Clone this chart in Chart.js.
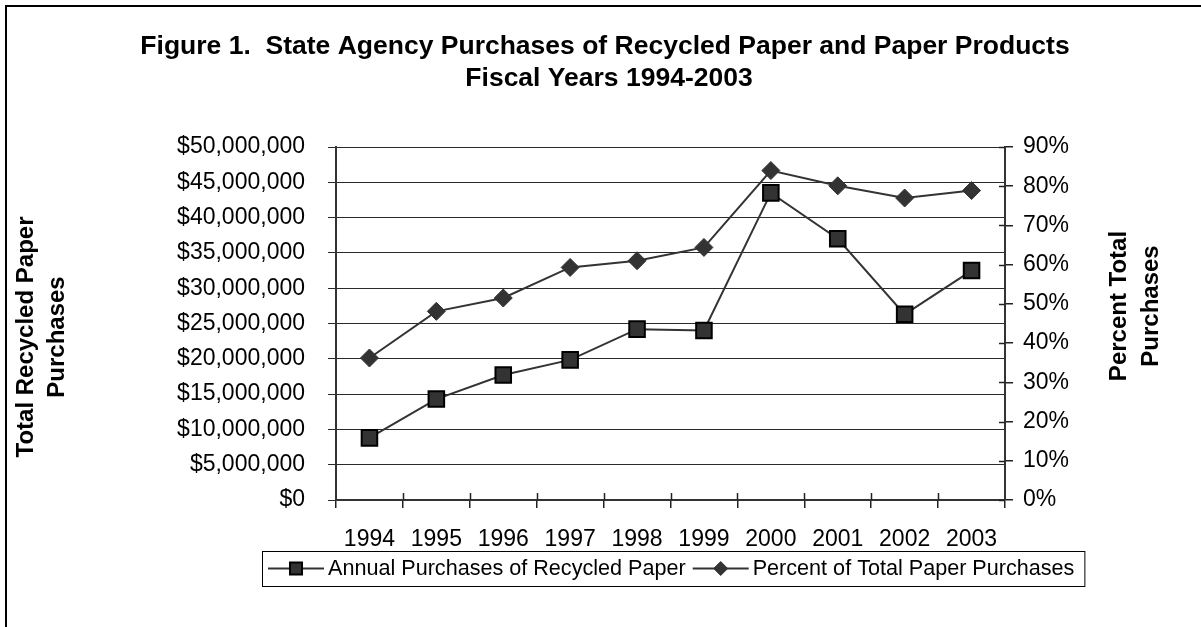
<!DOCTYPE html>
<html>
<head>
<meta charset="utf-8">
<script src="https://cdn.jsdelivr.net/npm/chart.js@4/dist/chart.umd.min.js"></script>
<style>
  html, body { margin: 0; padding: 0; background: #ffffff; }
  #wrap { width: 1201px; height: 627px; position: relative; }
</style>
</head>
<body>
<div id="wrap"><canvas id="c" width="1201" height="627"></canvas></div>
<script>
// Fiscal years and the two series plotted against them
const categories = ['1994', '1995', '1996', '1997', '1998', '1999', '2000', '2001', '2002', '2003'];
const annualPurchases = [8800000, 14300000, 17700000, 19850000, 24200000, 24000000, 43500000, 37000000, 26300000, 32500000];
const percentOfTotal = [36.2, 48.1, 51.5, 59.3, 61.0, 64.4, 84.0, 80.1, 77.0, 78.9];

// Text
const titleLines = ['Figure 1.  State Agency Purchases of Recycled Paper and Paper Products', 'Fiscal Years 1994-2003'];
const leftAxisTitle = ['Total Recycled Paper', 'Purchases'];
const rightAxisTitle = ['Percent Total', 'Purchases'];
const seriesNames = ['Annual Purchases of Recycled Paper', 'Percent of Total Paper Purchases'];

// Axis ranges
const dollarAxis = { min: 0, max: 50000000, step: 5000000 };
const percentAxis = { min: 0, max: 90, step: 10 };

const FONT = "'Liberation Sans', Arial, Helvetica, sans-serif";
const INK = '#333333';
Chart.defaults.font.family = FONT;
Chart.defaults.color = '#000000';

function drawSquare(ctx, x, y, half) {
  ctx.save();
  ctx.fillStyle = INK;
  ctx.strokeStyle = '#000000';
  ctx.lineWidth = 2;
  ctx.beginPath();
  ctx.rect(x - half, y - half, half * 2, half * 2);
  ctx.fill();
  ctx.stroke();
  ctx.restore();
}
function drawDiamond(ctx, x, y, r) {
  ctx.save();
  ctx.fillStyle = INK;
  ctx.strokeStyle = INK;
  ctx.lineWidth = 1;
  ctx.beginPath();
  ctx.moveTo(x - r, y);
  ctx.lineTo(x, y - r);
  ctx.lineTo(x + r, y);
  ctx.lineTo(x, y + r);
  ctx.closePath();
  ctx.fill();
  ctx.stroke();
  ctx.restore();
}

const decorations = {
  id: 'decorations',
  beforeDatasetsDraw(chart) {
    const ctx = chart.ctx;
    const area = chart.chartArea;
    const y2 = chart.scales.y2;
    ctx.save();
    ctx.strokeStyle = '#222222';
    ctx.lineWidth = 1.5;
    // inner half of the category tick marks
    const step = (area.right - area.left) / categories.length;
    for (let i = 1; i < categories.length; i++) {
      const px = Math.round(area.left + i * step) + 0.5;
      ctx.beginPath();
      ctx.moveTo(px, area.bottom - 7);
      ctx.lineTo(px, area.bottom);
      ctx.stroke();
    }
    // inner half of the percent axis tick marks
    y2.ticks.forEach((t, i) => {
      const py = Math.round(y2.getPixelForTick(i)) + 0.5;
      ctx.beginPath();
      ctx.moveTo(area.right - 6, py);
      ctx.lineTo(area.right, py);
      ctx.stroke();
    });
    ctx.restore();
  },
  afterDraw(chart) {
    const ctx = chart.ctx;
    ctx.save();
    // outer frame (left and top edges)
    ctx.strokeStyle = '#000000';
    ctx.lineWidth = 2;
    ctx.beginPath();
    ctx.moveTo(6, 627);
    ctx.lineTo(6, 6);
    ctx.lineTo(1201, 6);
    ctx.stroke();

    // chart title
    ctx.fillStyle = '#000000';
    ctx.textAlign = 'center';
    ctx.textBaseline = 'alphabetic';
    ctx.font = 'bold 26.5px ' + FONT;
    ctx.fillText(titleLines[0], 605, 54);
    ctx.fillText(titleLines[1], 609, 86);

    // axis titles
    ctx.font = 'bold 24px ' + FONT;
    ctx.textBaseline = 'middle';
    ctx.save();
    ctx.translate(0, 337);
    ctx.rotate(-Math.PI / 2);
    ctx.fillText(leftAxisTitle[0], 0, 26);
    ctx.fillText(leftAxisTitle[1], 0, 57);
    ctx.restore();
    ctx.save();
    ctx.translate(0, 306);
    ctx.rotate(-Math.PI / 2);
    ctx.fillText(rightAxisTitle[0], 0, 1119);
    ctx.fillText(rightAxisTitle[1], 0, 1151);
    ctx.restore();

    // legend
    ctx.font = '21.6px ' + FONT;
    ctx.textAlign = 'left';
    ctx.textBaseline = 'middle';
    const boxLeft = 262, boxTop = 551, boxH = 35;
    const cy = boxTop + boxH / 2;
    const lineLen = 56, gapAfterLine = 4, gapBetween = 7, padL = 6, padR = 10;
    let x = boxLeft + padL;
    const itemStarts = [];
    seriesNames.forEach((name) => {
      itemStarts.push(x);
      x += lineLen + gapAfterLine + ctx.measureText(name).width + gapBetween;
    });
    const boxRight = x - gapBetween + padR;
    ctx.fillStyle = '#ffffff';
    ctx.fillRect(boxLeft, boxTop, boxRight - boxLeft, boxH);
    ctx.strokeStyle = '#000000';
    ctx.lineWidth = 1;
    ctx.strokeRect(boxLeft + 0.5, boxTop + 0.5, boxRight - boxLeft, boxH);
    seriesNames.forEach((name, i) => {
      const sx = itemStarts[i];
      ctx.strokeStyle = INK;
      ctx.lineWidth = 2;
      ctx.beginPath();
      ctx.moveTo(sx, cy);
      ctx.lineTo(sx + lineLen, cy);
      ctx.stroke();
      if (i === 0) drawSquare(ctx, sx + lineLen / 2, cy, 6);
      else drawDiamond(ctx, sx + lineLen / 2, cy, 7);
      ctx.fillStyle = '#000000';
      ctx.fillText(name, sx + lineLen + gapAfterLine, cy + 1);
    });
    ctx.restore();
  }
};

new Chart(document.getElementById('c'), {
  type: 'line',
  data: {
    labels: categories,
    datasets: [
      {
        label: seriesNames[0],
        data: annualPurchases,
        yAxisID: 'y',
        borderColor: INK,
        borderWidth: 2,
        backgroundColor: INK,
        pointStyle: 'rect',
        pointRadius: 11,
        pointBackgroundColor: INK,
        pointBorderColor: '#000000',
        pointBorderWidth: 2,
        tension: 0,
        fill: false
      },
      {
        label: seriesNames[1],
        data: percentOfTotal,
        yAxisID: 'y2',
        borderColor: INK,
        borderWidth: 2,
        backgroundColor: INK,
        pointStyle: 'rectRot',
        pointRadius: 9,
        pointBackgroundColor: INK,
        pointBorderColor: INK,
        pointBorderWidth: 1,
        tension: 0,
        fill: false
      }
    ]
  },
  options: {
    responsive: false,
    devicePixelRatio: 1,
    animation: false,
    layout: { padding: { top: 147, bottom: 0, left: 0, right: 0 } },
    plugins: {
      legend: { display: false },
      title: { display: false },
      tooltip: { enabled: false }
    },
    scales: {
      x: {
        type: 'category',
        offset: true,
        grid: { display: true, offset: true, drawOnChartArea: false, drawTicks: true, tickLength: 8, color: '#222222', lineWidth: 1.5 },
        border: { display: true, color: '#333333', width: 2 },
        ticks: { font: { size: 23 }, color: '#000000', padding: 18, maxRotation: 0, autoSkip: false },
        afterFit(scale) { scale.height = 127; }
      },
      y: {
        position: 'left',
        min: dollarAxis.min,
        max: dollarAxis.max,
        grid: { color: '#2a2a2a', lineWidth: 1, tickLength: 8, drawTicks: true },
        border: { display: true, color: '#333333', width: 2 },
        ticks: {
          stepSize: dollarAxis.step,
          font: { size: 23 },
          color: '#000000',
          padding: 23,
          callback: v => '$' + Number(v).toLocaleString('en-US')
        },
        afterFit(scale) { scale.width = 336; }
      },
      y2: {
        position: 'right',
        min: percentAxis.min,
        max: percentAxis.max,
        grid: { drawOnChartArea: false, color: '#222222', lineWidth: 1.5, tickLength: 8, drawTicks: true },
        border: { display: true, color: '#333333', width: 2 },
        ticks: {
          stepSize: percentAxis.step,
          font: { size: 23 },
          color: '#000000',
          padding: 10,
          callback: v => v + '%'
        },
        afterFit(scale) { scale.width = 196; }
      }
    }
  },
  plugins: [decorations]
});
</script>
</body>
</html>
